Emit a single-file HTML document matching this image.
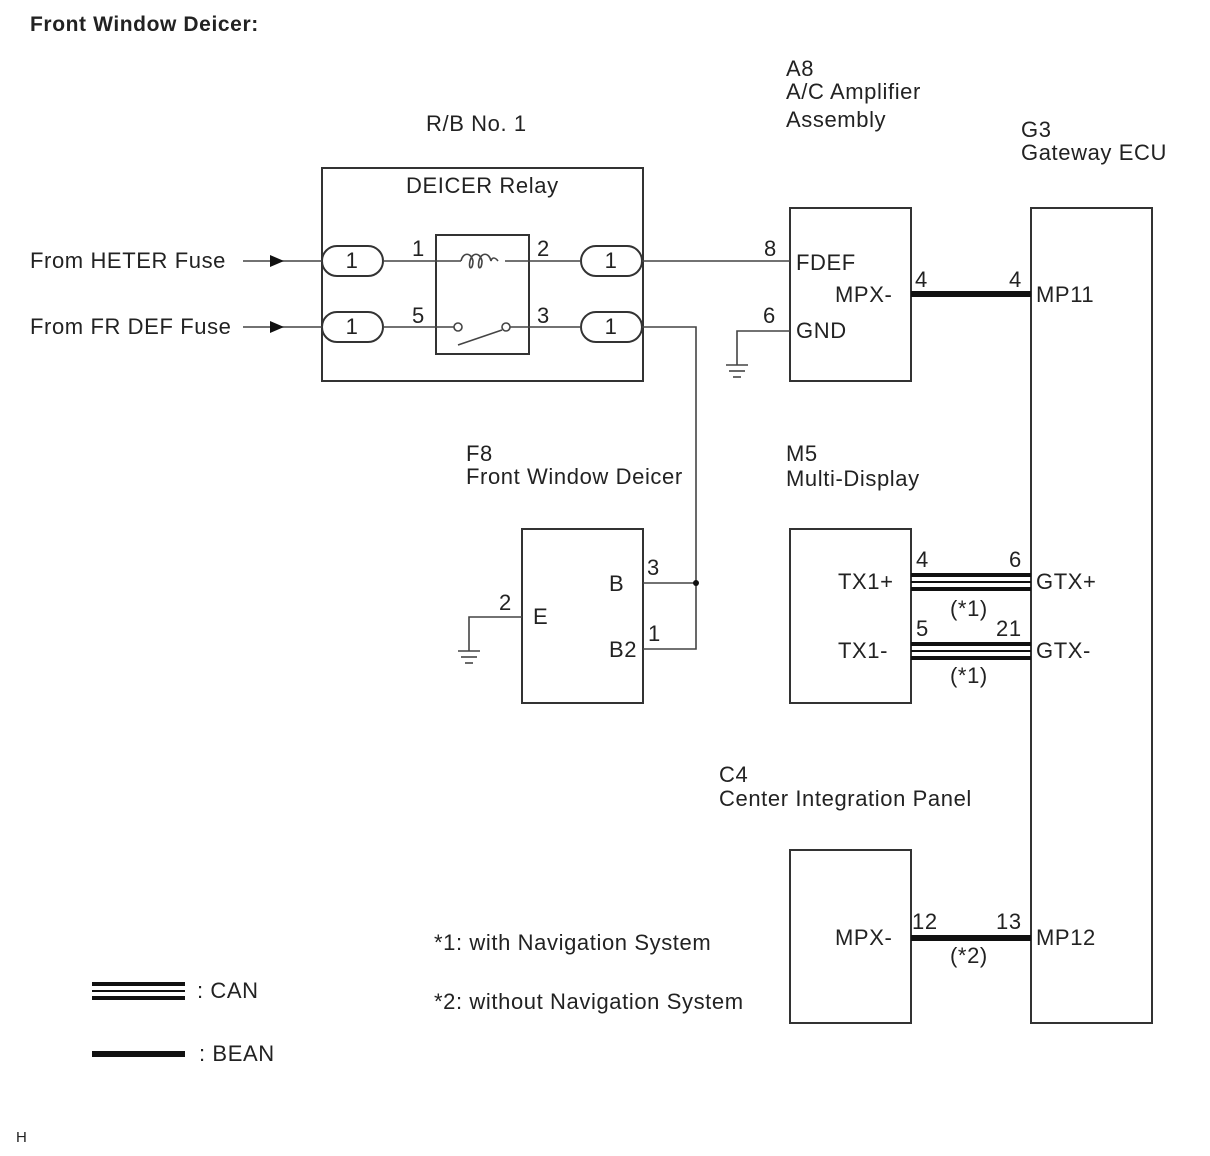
<!DOCTYPE html>
<html><head><meta charset="utf-8"><style>
body{margin:0;background:#fff;}
svg{display:block;font-family:"Liberation Sans",Arial,sans-serif;}
text{font-size:22px;fill:#222;letter-spacing:0.6px;}
</style></head><body>
<svg width="1210" height="1156" viewBox="0 0 1210 1156" xmlns="http://www.w3.org/2000/svg">
<text x="30" y="31" style="font-weight:bold;font-size:21px">Front Window Deicer:</text>

<text x="426" y="131">R/B No. 1</text>
<text x="786" y="76">A8</text>
<text x="786" y="99">A/C Amplifier</text>
<text x="786" y="127">Assembly</text>
<text x="1021" y="137">G3</text>
<text x="1021" y="160">Gateway ECU</text>

<g fill="none" stroke="#333" stroke-width="2">
<rect x="322" y="168" width="321" height="213"/>
<rect x="436" y="235" width="93" height="119"/>
<rect x="322" y="246" width="61" height="30" rx="15"/>
<rect x="322" y="312" width="61" height="30" rx="15"/>
<rect x="581" y="246" width="61" height="30" rx="15"/>
<rect x="581" y="312" width="61" height="30" rx="15"/>
<rect x="790" y="208" width="121" height="173"/>
<rect x="1031" y="208" width="121" height="815"/>
<rect x="522" y="529" width="121" height="174"/>
<rect x="790" y="529" width="121" height="174"/>
<rect x="790" y="850" width="121" height="173"/>
</g>
<text x="406" y="193">DEICER Relay</text>
<g text-anchor="middle"><text x="352" y="268">1</text><text x="352" y="334">1</text><text x="611" y="268">1</text><text x="611" y="334">1</text></g>

<g fill="none" stroke="#444" stroke-width="1.6">
<line x1="243" y1="261" x2="322" y2="261"/>
<line x1="243" y1="327" x2="322" y2="327"/>
<line x1="383" y1="261" x2="461" y2="261"/>
<path d="M461 261 c2-9 10-9 12 0 c0 9 -5 9 -3 0 c2-9 10-9 12 0 c0 9 -5 9 -3 0 c2-9 10-9 12 0 l0 0 c1-4 4-4 7 0"/>
<line x1="505" y1="261" x2="581" y2="261"/>
<line x1="383" y1="327" x2="454" y2="327"/>
<circle cx="458" cy="327" r="4"/>
<circle cx="506" cy="327" r="4"/>
<line x1="458" y1="345" x2="502" y2="330"/>
<line x1="510" y1="327" x2="581" y2="327"/>
<line x1="642" y1="261" x2="790" y2="261"/>
<polyline points="642,327 696,327 696,649 643,649"/>
<line x1="643" y1="583" x2="696" y2="583"/>
<polyline points="790,331 737,331 737,365"/>
<line x1="726" y1="365" x2="748" y2="365"/>
<line x1="729" y1="371" x2="745" y2="371"/>
<line x1="733" y1="377" x2="741" y2="377"/>
<polyline points="522,617 469,617 469,651"/>
<line x1="458" y1="651" x2="480" y2="651"/>
<line x1="461" y1="657" x2="477" y2="657"/>
<line x1="465" y1="663" x2="473" y2="663"/>
</g>
<path d="M270 255 L284 261 L270 267Z" fill="#111"/>
<path d="M270 321 L284 327 L270 333Z" fill="#111"/>
<circle cx="696" cy="583" r="3" fill="#111"/>

<text x="30" y="268">From HETER Fuse</text>
<text x="30" y="334">From FR DEF Fuse</text>
<text x="412" y="256">1</text><text x="412" y="323">5</text>
<text x="537" y="256">2</text><text x="537" y="323">3</text>
<text x="764" y="256">8</text><text x="796" y="270">FDEF</text>
<text x="835" y="302">MPX-</text>
<text x="763" y="323">6</text><text x="796" y="338">GND</text>
<text x="1036" y="302">MP11</text>
<text x="915" y="287">4</text><text x="1009" y="287">4</text>

<g fill="#111">
<rect x="911" y="291" width="120" height="6"/>
<rect x="911" y="935" width="120" height="6"/>
<rect x="911" y="573" width="120" height="4"/>
<rect x="911" y="581" width="120" height="2"/>
<rect x="911" y="587" width="120" height="4"/>
<rect x="911" y="642" width="120" height="4"/>
<rect x="911" y="650" width="120" height="2"/>
<rect x="911" y="656" width="120" height="4"/>
<rect x="92" y="982" width="93" height="4"/>
<rect x="92" y="990" width="93" height="2"/>
<rect x="92" y="996" width="93" height="4"/>
<rect x="92" y="1051" width="93" height="6"/>
</g>

<text x="466" y="461">F8</text>
<text x="466" y="484">Front Window Deicer</text>
<text x="786" y="461">M5</text>
<text x="786" y="486">Multi-Display</text>
<text x="609" y="591">B</text><text x="609" y="657">B2</text><text x="533" y="624">E</text>
<text x="647" y="575">3</text><text x="648" y="641">1</text><text x="499" y="610">2</text>
<text x="838" y="589">TX1+</text><text x="838" y="658">TX1-</text>
<text x="916" y="567">4</text><text x="1009" y="567">6</text>
<text x="916" y="636">5</text><text x="996" y="636">21</text>
<text x="950" y="616">(*1)</text><text x="950" y="683">(*1)</text>
<text x="1036" y="589">GTX+</text><text x="1036" y="658">GTX-</text>

<text x="719" y="782">C4</text>
<text x="719" y="806">Center Integration Panel</text>
<text x="835" y="945">MPX-</text>
<text x="912" y="929">12</text><text x="996" y="929">13</text>
<text x="950" y="963">(*2)</text>
<text x="1036" y="945">MP12</text>

<text x="434" y="950">*1: with Navigation System</text>
<text x="434" y="1009">*2: without Navigation System</text>
<text x="197" y="998">: CAN</text>
<text x="199" y="1061">: BEAN</text>
<text x="16" y="1142" style="font-size:15px">H</text>
</svg>
</body></html>
